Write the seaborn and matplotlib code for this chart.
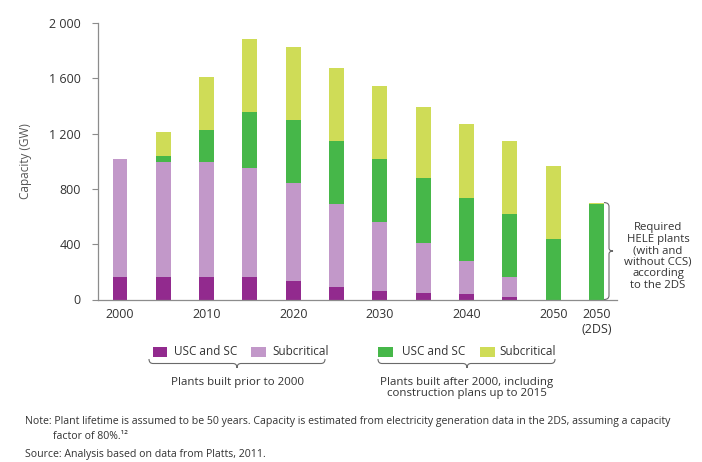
import matplotlib
matplotlib.use("Agg")
import matplotlib.pyplot as plt
import seaborn as sns
import numpy as np
from matplotlib.path import Path
from matplotlib.patches import PathPatch, Rectangle

# ---------------- data ----------------
categories = ["2000", "2005", "2010", "2015", "2020", "2025",
              "2030", "2035", "2040", "2045", "2050", "2050 (2DS)"]
old_usc_sc = [162, 162, 162, 162, 133, 88, 61, 45, 40, 20, 0, 0]
old_subcritical = [852, 830, 830, 787, 710, 601, 500, 363, 236, 140, 0, 0]
new_usc_sc = [0, 43, 231, 406, 457, 460, 455, 469, 461, 462, 437, 689]
new_subcritical = [0, 178, 387, 532, 524, 523, 529, 519, 529, 522, 531, 12]

xtick_positions = [0, 2, 4, 6, 8, 10, 11]
xtick_labels = ["2000", "2010", "2020", "2030", "2040", "2050", "2050\n(2DS)"]
yticks = [0, 400, 800, 1200, 1600, 2000]
ytick_labels = ["0", "400", "800", "1 200", "1 600", "2 000"]

series_names = ["USC and SC", "Subcritical", "USC and SC", "Subcritical"]
series_values = [old_usc_sc, old_subcritical, new_usc_sc, new_subcritical]
colors = ["#922A8E", "#C298C9", "#46B749", "#CFDC57"]

TEXT = "#333333"
AXC = "#8c8c8c"

sns.set_theme(style="white")
plt.rcParams["font.family"] = ["Open Sans", "DejaVu Sans"]
plt.rcParams["text.color"] = TEXT

W, H = 702, 462
fig = plt.figure(figsize=(W / 100, H / 100), dpi=100)
ax = fig.add_axes([98 / W, 1 - 299.5 / H, 519 / W, 276.5 / H])

bottom = np.zeros(len(categories))
for vals, col in zip(series_values, colors):
    sns.barplot(x=categories, y=vals, bottom=bottom, color=col, saturation=1,
                width=0.346, errorbar=None, linewidth=0, ax=ax)
    bottom = bottom + np.array(vals)

ax.set_xlim(-0.508, 11.473)
ax.set_ylim(0, 2000)
ax.set_xticks(xtick_positions)
ax.set_xticklabels(xtick_labels, fontsize=9, color=TEXT)
ax.set_yticks(yticks)
ax.set_yticklabels(ytick_labels, fontsize=9, color=TEXT)
ax.tick_params(axis="x", length=0, pad=6)
ax.tick_params(axis="y", length=4.3, width=0.8, color=AXC, pad=8, left=True)
ax.set_xlabel("")
ax.set_ylabel("Capacity (GW)", fontsize=8.5, color="#555555")
ax.yaxis.set_label_coords(-0.127, 0.5)
for s in ["top", "right"]:
    ax.spines[s].set_visible(False)
for s in ["left", "bottom"]:
    ax.spines[s].set_color(AXC)
    ax.spines[s].set_linewidth(0.9)


def fx(px):
    return px / W


def fy(py):
    return 1 - py / H


def hbrace(x0, x1, xm, ytop, ybot, r=4):
    ymid = (ytop + ybot) / 2
    verts = [
        (x0, ytop), (x0, ymid), (x0 + r, ymid),
        (xm - r, ymid), (xm, ymid), (xm, ybot),
        (xm, ymid), (xm + r, ymid),
        (x1 - r, ymid), (x1, ymid), (x1, ytop),
    ]
    codes = [Path.MOVETO, Path.CURVE3, Path.CURVE3,
             Path.LINETO, Path.CURVE3, Path.CURVE3,
             Path.CURVE3, Path.CURVE3,
             Path.LINETO, Path.CURVE3, Path.CURVE3]
    verts = [(fx(a), fy(b)) for a, b in verts]
    fig.patches.append(PathPatch(Path(verts, codes), transform=fig.transFigure,
                                 fill=False, edgecolor="#6a6a6a", lw=0.8))


# right-side bracket around the 2DS bar
fig.canvas.draw()
tot12 = bottom[-1]
disp_top = ax.transData.transform((11, tot12))
disp_bot = ax.transData.transform((11, 0))
ytop_px = H - disp_top[1]
ybot_px = H - disp_bot[1]
bx0, bx1 = 604, 609
ymid_px = (ytop_px + ybot_px) / 2
r = 4
verts = [
    (bx0, ytop_px), (bx1, ytop_px), (bx1, ytop_px + r),
    (bx1, ymid_px - 3), (bx1, ymid_px), (bx1 + 4, ymid_px),
    (bx1, ymid_px), (bx1, ymid_px + 3),
    (bx1, ybot_px - r), (bx1, ybot_px), (bx0, ybot_px),
]
codes = [Path.MOVETO, Path.CURVE3, Path.CURVE3,
         Path.LINETO, Path.CURVE3, Path.CURVE3,
         Path.CURVE3, Path.CURVE3,
         Path.LINETO, Path.CURVE3, Path.CURVE3]
verts = [(fx(a), fy(b)) for a, b in verts]
fig.patches.append(PathPatch(Path(verts, codes), transform=fig.transFigure,
                             fill=False, edgecolor="#6a6a6a", lw=0.8))

fig.text(fx(658), fy(256.5), "Required\nHELE plants\n(with and\nwithout CCS)\naccording\nto the 2DS",
         ha="center", va="center", fontsize=8.2, linespacing=1.08, color=TEXT)

# legend
swatches = [(152.5, 0), (251, 1), (378, 2), (480, 3)]
text_x = [174, 272, 402, 499]
for (sx, ci), tx in zip(swatches, text_x):
    fig.patches.append(Rectangle((fx(sx), fy(356.5)), 14.5 / W, 9.5 / H,
                                 transform=fig.transFigure, color=colors[ci], lw=0))
    fig.text(fx(tx), fy(351.5), series_names[ci], ha="left", va="center",
             fontsize=8.5, color=TEXT)

hbrace(149, 325, 237, 359, 368)
hbrace(378, 555, 467, 359, 368)
fig.text(fx(237), fy(382), "Plants built prior to 2000", ha="center", va="center",
         fontsize=8.25, color=TEXT)
fig.text(fx(467), fy(387.8), "Plants built after 2000, including\nconstruction plans up to 2015",
         ha="center", va="center", fontsize=8.25, linespacing=1.02, color=TEXT)

# notes
fig.text(fx(25), fy(421.7), "Note: Plant lifetime is assumed to be 50 years. Capacity is estimated from "
         "electricity generation data in the 2DS, assuming a capacity",
         ha="left", va="center", fontsize=7.6, color=TEXT)
fig.text(fx(53), fy(436.7), "factor of 80%.¹²", ha="left", va="center", fontsize=7.6, color=TEXT)
fig.text(fx(25), fy(455), "Source: Analysis based on data from Platts, 2011.",
         ha="left", va="center", fontsize=7.6, color=TEXT)

fig.savefig("out.png", dpi=100)
